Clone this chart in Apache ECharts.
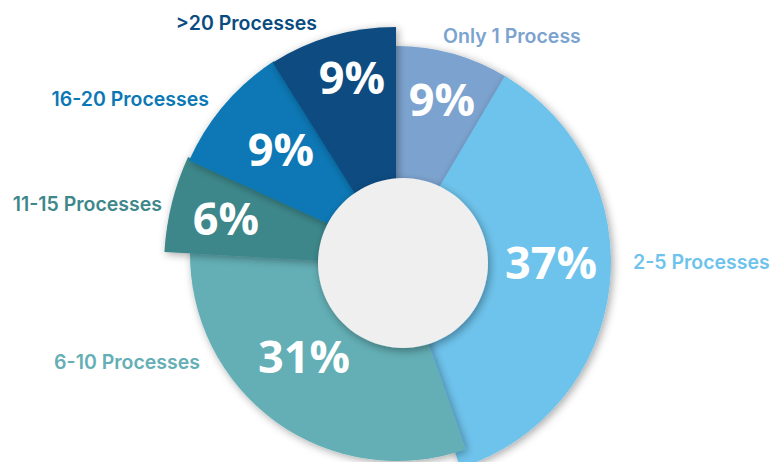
<!DOCTYPE html>
<html>
<head>
<meta charset="utf-8">
<script src="https://cdn.jsdelivr.net/npm/echarts@6/dist/echarts.min.js"></script>
<style>
  html, body { margin: 0; padding: 0; background: #ffffff; }
  #chart { width: 771px; height: 462px; }
</style>
</head>
<body>
<div id="chart"></div>
<script>
// ---- data ----
const categories = ['Only 1 Process', '2-5 Processes', '6-10 Processes', '11-15 Processes', '16-20 Processes', '>20 Processes'];
const shares = [9, 37, 31, 6, 9, 9];

// ---- layout / style (not data) ----
const colors = ['#7BA3CF', '#6EC3EC', '#64AFB5', '#3E878A', '#0A78B5', '#094C80'];
const sliceCenters = [[396, 258], [395, 262], [397, 254], [428, 267], [404, 258], [396, 259]];
const sliceRadii = [212, 216, 207, 264, 236, 232];
const sliceStart = [90.4, 91.5, 93.3, 91.2, 91.44, 90];
const pctPos = [[442, 98], [551, 261], [304, 355], [226, 217], [281, 148], [352, 76]];
const catPos = [[443, 36, 'left'], [633, 262, 'left'], [200, 362, 'right'], [162, 204, 'right'], [209, 99, 'right'], [317, 23, 'right']];
const hole = { center: [403, 263], radius: 85, color: '#EFEFEF' };

const chart = echarts.init(document.getElementById('chart'), null, { renderer: 'svg' });

const series = categories.map((cat, k) => ({
  type: 'pie',
  name: cat,
  center: sliceCenters[k],
  radius: [0, sliceRadii[k]],
  startAngle: sliceStart[k],
  clockwise: true,
  silent: true,
  animation: false,
  label: { show: false },
  labelLine: { show: false },
  emphasis: { disabled: true },
  itemStyle: { borderWidth: 0 },
  data: shares.map((v, i) => ({
    name: categories[i],
    value: v,
    itemStyle: i === k
      ? { color: colors[i], borderWidth: 0, shadowColor: 'rgba(0,0,0,0.35)', shadowBlur: 8, shadowOffsetX: 2, shadowOffsetY: 2 }
      : { color: 'rgba(0,0,0,0)', borderWidth: 0, borderColor: 'rgba(0,0,0,0)' }
  }))
}));

series.push({
  type: 'pie',
  name: 'hole',
  center: hole.center,
  radius: [0, hole.radius],
  silent: true,
  animation: false,
  label: { show: false },
  labelLine: { show: false },
  emphasis: { disabled: true },
  itemStyle: { borderWidth: 0 },
  data: [{ value: 1, name: '', itemStyle: { color: hole.color, borderWidth: 0, shadowColor: 'rgba(0,0,0,0.35)', shadowBlur: 8, shadowOffsetX: 2, shadowOffsetY: 3 } }]
});

const texts = [];
categories.forEach((cat, i) => {
  texts.push({
    type: 'text',
    x: pctPos[i][0], y: pctPos[i][1],
    z: 100,
    style: {
      text: shares[i] + '%',
      fill: '#ffffff',
      font: 'bold 45px "Open Sans", sans-serif',
      align: 'center', verticalAlign: 'middle',
      textAlign: 'center', textVerticalAlign: 'middle'
    }
  });
  texts.push({
    type: 'text',
    x: catPos[i][0], y: catPos[i][1],
    z: 100,
    style: {
      text: cat,
      fill: colors[i],
      font: '600 19.5px Inter, "Open Sans", sans-serif',
      align: catPos[i][2], verticalAlign: 'middle',
      textAlign: catPos[i][2], textVerticalAlign: 'middle'
    }
  });
});

chart.setOption({
  backgroundColor: '#ffffff',
  animation: false,
  series: series,
  graphic: { elements: texts }
});
</script>
</body>
</html>
